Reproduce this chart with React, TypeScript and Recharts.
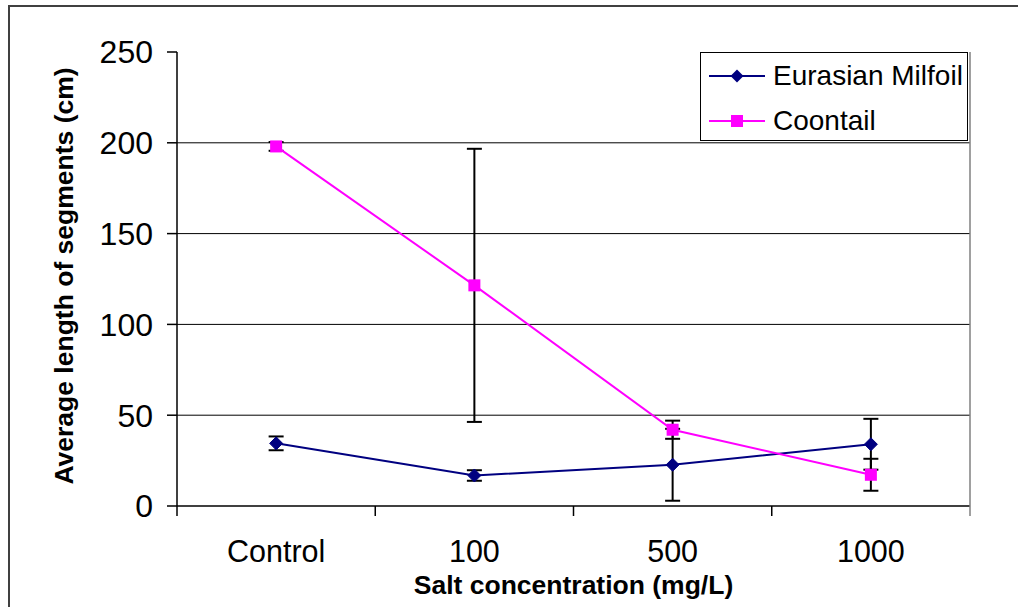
import React from 'react';
import { LineChart, Line, XAxis, YAxis, CartesianGrid, ErrorBar, Legend, Label } from 'recharts';

const FONT = '"Liberation Sans", Arial, sans-serif';

const categories = ['Control', '100', '500', '1000'];
const categoryPositions = [0.5, 1.5, 2.5, 3.5];
const xTicks = [0, 0.5, 1, 1.5, 2, 2.5, 3, 3.5, 4];
const yTicks = [0, 50, 100, 150, 200, 250];
const gridValues = [50, 100, 150, 200];

const milfoilName = 'Eurasian Milfoil';
const milfoilValues = [34.5, 16.8, 22.7, 34.0];
const milfoilErrors = [3.8, 2.9, 19.8, 14.0];

const coontailName = 'Coontail';
const coontailValues = [198.0, 121.5, 42.0, 17.2];
const coontailErrors = [2.4, 75.2, 5.0, 8.8];

const MILFOIL_COLOR = '#000080';
const COONTAIL_COLOR = '#FF00FF';

const data = categories.map((c, i) => ({
  x: categoryPositions[i],
  cat: c,
  milfoil: milfoilValues[i],
  milfoilErr: milfoilErrors[i],
  coontail: coontailValues[i],
  coontailErr: coontailErrors[i],
}));

const Diamond = (props: any) => {
  const { cx, cy } = props;
  if (cx == null || cy == null) return null;
  const r = 6.5;
  return (
    <path
      d={`M${cx} ${cy - r} L${cx + r} ${cy} L${cx} ${cy + r} L${cx - r} ${cy} Z`}
      fill={MILFOIL_COLOR}
      stroke={MILFOIL_COLOR}
      strokeWidth={1}
    />
  );
};

const Square = (props: any) => {
  const { cx, cy } = props;
  if (cx == null || cy == null) return null;
  const h = 6;
  return <rect x={cx - h} y={cy - h} width={2 * h} height={2 * h} fill={COONTAIL_COLOR} />;
};

const XTick = (props: any) => {
  const { x, y, payload } = props;
  const v = payload.value as number;
  if (Number.isInteger(v)) {
    return <line x1={x} y1={y} x2={x} y2={y + 10} stroke={v === 4 ? '#808080' : '#000'} strokeWidth={1.5} />;
  }
  const idx = Math.floor(v);
  return (
    <text x={x} y={y + 34} dy="0.71em" textAnchor="middle" fontSize={30.5} fontFamily={FONT} fill="#000">
      {categories[idx]}
    </text>
  );
};

const legendItems = [
  { name: milfoilName, color: MILFOIL_COLOR, shape: 'diamond' },
  { name: coontailName, color: COONTAIL_COLOR, shape: 'square' },
];

const renderLegend = () => (
  <div
    style={{
      position: 'relative',
      width: 266,
      height: 87,
      border: '1px solid #000',
      background: '#fff',
      fontFamily: FONT,
      fontSize: 28,
      color: '#000',
    }}
  >
    {legendItems.map((item, i) => (
      <div
        key={item.name}
        style={{ position: 'absolute', left: 0, top: i === 0 ? 5 : 50, height: 36, display: 'flex', alignItems: 'center', whiteSpace: 'nowrap' }}
      >
        <svg width={72} height={36} style={{ display: 'block' }}>
          <line x1={8} y1={18} x2={64} y2={18} stroke={item.color} strokeWidth={2} />
          {item.shape === 'diamond' ? (
            <path d="M36 11.5 L42.5 18 L36 24.5 L29.5 18 Z" fill={item.color} />
          ) : (
            <rect x={30} y={12} width={12} height={12} fill={item.color} />
          )}
        </svg>
        <span style={{ lineHeight: '36px' }}>{item.name}</span>
      </div>
    ))}
  </div>
);

const YTitle = (props: any) => {
  const { viewBox } = props;
  const cy = viewBox.y + viewBox.height / 2 - 3;
  return (
    <text
      transform={`translate(65, ${cy}) rotate(-90)`}
      textAnchor="middle"
      fontSize={26.5}
      fontWeight="bold"
      fontFamily={FONT}
      fill="#000"
    >
      Average length of segments (cm)
    </text>
  );
};

export default function App() {
  return (
    <div style={{ position: 'relative' }}>
      <LineChart
        width={1002}
        height={591}
        data={data}
        margin={{ top: 44, right: 39, bottom: 5, left: 0 }}
        style={{ fontFamily: FONT }}
      >
        <CartesianGrid vertical={false} horizontalValues={gridValues} stroke="#000" strokeWidth={1} />
        <XAxis
          dataKey="x"
          type="number"
          domain={[0, 4]}
          ticks={xTicks}
          interval={0}
          tickSize={0}
          tickMargin={0}
          tickLine={false}
          tick={<XTick />}
          axisLine={{ stroke: '#000', strokeWidth: 1.5 }}
          height={88}
        >
          <Label
            value="Salt concentration (mg/L)"
            position="insideBottom"
            offset={0}
            fontSize={26.5}
            fontWeight="bold"
            fontFamily={FONT}
            fill="#000"
          />
        </XAxis>
        <XAxis
          xAxisId="top"
          orientation="top"
          type="number"
          domain={[0, 4]}
          height={0}
          tick={false}
          tickLine={false}
          axisLine={{ stroke: '#808080', strokeWidth: 1.5 }}
        />
        <YAxis
          type="number"
          domain={[0, 250]}
          ticks={yTicks}
          interval={0}
          width={169}
          tickSize={10}
          tickMargin={14}
          tick={{ fontSize: 32, fill: '#000', fontFamily: FONT }}
          tickLine={{ stroke: '#000', strokeWidth: 1.5 }}
          axisLine={{ stroke: '#000', strokeWidth: 1.5 }}
        >
          <Label content={<YTitle />} />
        </YAxis>
        <YAxis
          yAxisId="right"
          orientation="right"
          type="number"
          domain={[0, 250]}
          width={1}
          tick={false}
          tickLine={false}
          axisLine={{ stroke: '#808080', strokeWidth: 1.5 }}
        />
        <Legend
          layout="vertical"
          align="center"
          verticalAlign="middle"
          content={renderLegend}
          wrapperStyle={{ position: 'absolute', left: 692, top: 44, width: 268, height: 89 }}
        />
        <Line
          name={milfoilName}
          dataKey="milfoil"
          stroke={MILFOIL_COLOR}
          strokeWidth={2}
          dot={<Diamond />}
          activeDot={false}
          isAnimationActive={false}
        >
          <ErrorBar dataKey="milfoilErr" direction="y" stroke="#000" strokeWidth={2} width={7.5} />
        </Line>
        <Line
          name={coontailName}
          dataKey="coontail"
          stroke={COONTAIL_COLOR}
          strokeWidth={2}
          dot={<Square />}
          activeDot={false}
          isAnimationActive={false}
        >
          <ErrorBar dataKey="coontailErr" direction="y" stroke="#000" strokeWidth={2} width={7.5} />
        </Line>
      </LineChart>
      <div
        style={{
          position: 'fixed',
          left: 8,
          top: 5,
          width: 1010,
          height: 2,
          background: '#404040',
          pointerEvents: 'none',
          zIndex: 5,
        }}
      />
      <div
        style={{
          position: 'fixed',
          left: 8,
          top: 5,
          width: 2,
          height: 602,
          background: '#404040',
          pointerEvents: 'none',
          zIndex: 5,
        }}
      />
    </div>
  );
}
